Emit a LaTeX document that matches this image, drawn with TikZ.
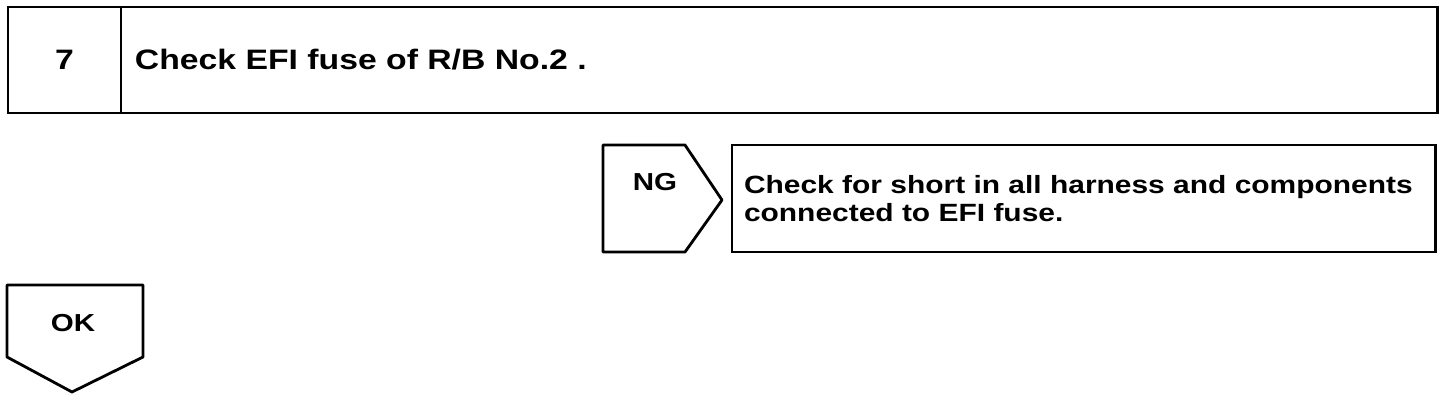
\documentclass[tikz,border=0pt]{standalone}
\usepackage{fontspec}
\setmainfont{Liberation Sans}[FakeStretch=1.2, WordSpace=1.5]
\usetikzlibrary{positioning}

\begin{document}
\begin{tikzpicture}[
    x=0.02cm, y=-0.02cm,
    frame/.style={rectangle, draw, line width=1.6pt, inner ysep=0pt, outer sep=0pt,
                  font=\bfseries\fontsize{14.2}{16}\selectfont},
    tag/.style={draw, line width=1.6pt, line join=round},
    lbl/.style={inner sep=0pt, font=\bfseries\fontsize{14}{16}\selectfont}
  ]
    \useasboundingbox (0,0) rectangle (1456,400);

    % step header
    \node[frame, minimum width=2.26cm, minimum height=2.12cm,
          font=\bfseries\fontsize{16}{18}\selectfont] (num) at (64.5,60) {7};
    \node[frame, right=0pt of num, minimum height=2.12cm, inner xsep=0.28cm,
          text width=25.78cm, align=left,
          font=\bfseries\fontsize{16}{18}\selectfont] (title) {Check EFI fuse of R/B No.2 .};

    % NG branch
    \draw[tag] (603,145) -- (685,145) -- (722,200) -- (685,252) -- (603,252) -- cycle;
    \node[lbl] (ng) at (655,182) {NG};
    \node[frame, anchor=north west, minimum height=2.14cm, inner xsep=0.24cm,
          text width=13.6cm, align=left] (fix) at (732,145)
          {Check for short in all harness and components\\connected to EFI fuse.};

    % OK branch
    \draw[tag] (7,285) -- (143,285) -- (143,357) -- (72,392) -- (7,357) -- cycle;
    \node[lbl] (ok) at (73,323) {OK};
\end{tikzpicture}
\end{document}
